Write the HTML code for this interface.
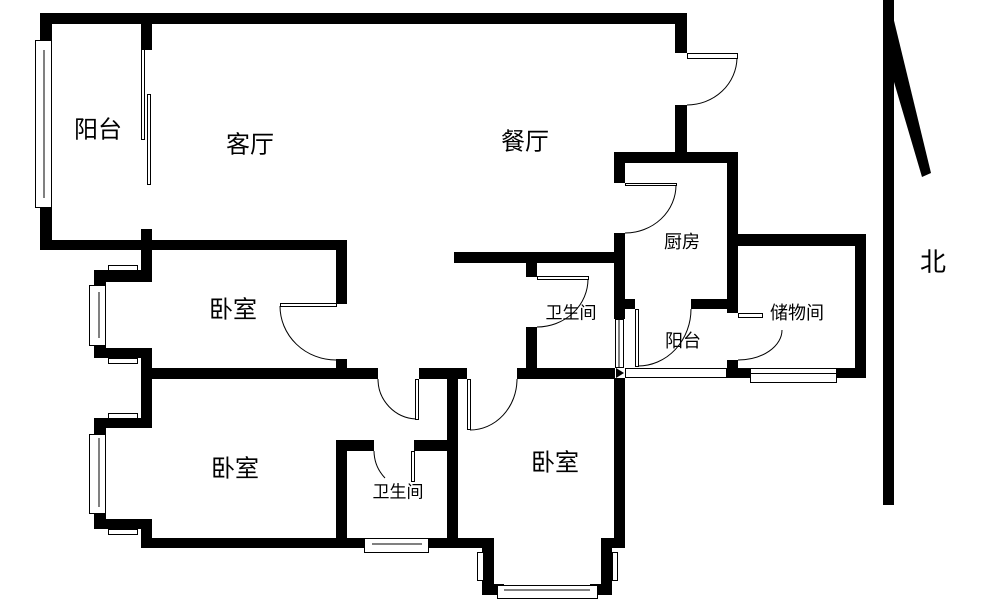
<!DOCTYPE html>
<html><head><meta charset="utf-8"><style>
html,body{margin:0;padding:0;background:#fff;}
svg{display:block;}
text{font-family:"Liberation Sans","Noto Sans CJK SC",sans-serif;fill:#000;text-anchor:middle;dominant-baseline:central;}
</style></head><body>
<svg width="990" height="610" viewBox="0 0 990 610" xmlns="http://www.w3.org/2000/svg">
<g fill="#000">
<!-- top & outer -->
<rect x="40" y="13" width="647" height="11"/>
<rect x="40" y="13" width="12" height="37"/>
<rect x="40" y="198" width="12" height="52"/>
<rect x="40" y="240" width="307" height="10"/>
<rect x="141" y="24" width="11" height="26"/>
<rect x="141" y="229" width="11" height="21"/>
<rect x="675" y="13" width="12" height="40"/>
<rect x="675" y="105" width="12" height="58"/>
<!-- bedroom1 -->
<rect x="141" y="250" width="11" height="32"/>
<rect x="94" y="270" width="58" height="12"/>
<rect x="94" y="270" width="12" height="22"/>
<rect x="94" y="338" width="12" height="20"/>
<rect x="94" y="348" width="58" height="10"/>
<rect x="141" y="348" width="11" height="32"/>
<rect x="336" y="240" width="11" height="64"/>
<rect x="336" y="359" width="11" height="10"/>
<rect x="141" y="368" width="237" height="11"/>
<!-- middle walls -->
<rect x="419" y="368" width="48" height="11"/>
<rect x="447" y="368" width="11" height="180"/>
<rect x="517" y="368" width="98" height="11"/>
<rect x="454" y="252" width="171" height="11"/>
<rect x="526" y="263" width="11" height="14"/>
<rect x="526" y="327" width="11" height="41"/>
<!-- kitchen -->
<rect x="614" y="152" width="124" height="11"/>
<rect x="614" y="152" width="11" height="31"/>
<rect x="614" y="233" width="11" height="86"/>
<rect x="727" y="152" width="11" height="161"/>
<rect x="625" y="299" width="10" height="10"/>
<rect x="691" y="299" width="47" height="10"/>
<rect x="614" y="378" width="11" height="170"/>
<!-- storage -->
<rect x="727" y="234" width="139" height="12"/>
<rect x="855" y="234" width="11" height="144"/>
<rect x="727" y="360" width="11" height="18"/>
<rect x="727" y="368" width="23" height="10"/>
<rect x="836" y="368" width="30" height="10"/>
<!-- bedroom2 -->
<rect x="141" y="379" width="11" height="49"/>
<rect x="94" y="418" width="58" height="10"/>
<rect x="94" y="418" width="12" height="20"/>
<rect x="94" y="507" width="12" height="22"/>
<rect x="94" y="519" width="58" height="10"/>
<rect x="141" y="519" width="11" height="29"/>
<rect x="141" y="538" width="231" height="10"/>
<rect x="422" y="538" width="36" height="10"/>
<!-- bathroom -->
<rect x="336" y="440" width="11" height="98"/>
<rect x="336" y="440" width="38" height="11"/>
<rect x="414" y="440" width="33" height="11"/>
<!-- bedroom3 -->
<rect x="458" y="538" width="36" height="10"/>
<rect x="482" y="538" width="12" height="57"/>
<rect x="482" y="584" width="22" height="11"/>
<rect x="590" y="584" width="22" height="11"/>
<rect x="601" y="538" width="11" height="57"/>
<rect x="601" y="538" width="24" height="10"/>
<!-- north arrow -->
<rect x="883" y="0" width="11" height="505"/>
<polygon points="883,0 889,0 931,173 922,177 894,82"/>
<polygon points="616,368 624,373 616,378"/>
</g>
<g fill="#fff" stroke="#000" stroke-width="1">
<!-- windows -->
<rect x="35.5" y="40.5" width="16" height="167"/>
<line x1="44" y1="50" x2="44" y2="198"/>
<rect x="141.5" y="49.5" width="3" height="90"/>
<rect x="147.5" y="94.5" width="3" height="90"/>
<rect x="89.5" y="285.5" width="16" height="60"/>
<line x1="99" y1="292" x2="99" y2="338"/>
<rect x="108.5" y="265.5" width="29" height="5"/>
<rect x="108.5" y="358.5" width="29" height="5"/>
<rect x="89.5" y="434.5" width="16" height="79"/>
<line x1="99" y1="438" x2="99" y2="507"/>
<rect x="108.5" y="413.5" width="29" height="5"/>
<rect x="108.5" y="529.5" width="29" height="5"/>
<rect x="364.5" y="538.5" width="64" height="14"/>
<line x1="372" y1="544" x2="422" y2="544"/>
<rect x="497.5" y="585.5" width="100" height="13"/>
<line x1="504" y1="590" x2="590" y2="590"/>
<rect x="477.5" y="552.5" width="6" height="28"/>
<rect x="612.5" y="552.5" width="5" height="28"/>
<rect x="750.5" y="368.5" width="86" height="9"/>
<rect x="750.5" y="373.5" width="86" height="9"/>
<rect x="625.5" y="368.5" width="101" height="9"/>
<rect x="615.5" y="319.5" width="8" height="48"/>
<line x1="619" y1="320" x2="619" y2="367"/>
<!-- door panels -->
<rect x="687.5" y="53.5" width="50" height="5"/>
<rect x="625.5" y="183.5" width="51" height="2"/>
<rect x="537.5" y="276.5" width="51" height="3"/>
<rect x="280.5" y="303.5" width="56" height="3"/>
<rect x="415.5" y="379.5" width="3" height="40"/>
<rect x="467.5" y="379.5" width="3" height="50"/>
<rect x="411.5" y="451.5" width="3" height="30"/>
<rect x="635.5" y="309.5" width="3" height="57"/>
<rect x="738.5" y="313.5" width="24" height="4"/>
</g>
<g fill="none" stroke="#000" stroke-width="1">
<path d="M737,58 A50,48 0 0 1 687,105"/>
<path d="M676,185 A51,48 0 0 1 625,233"/>
<path d="M588,279 A51,48 0 0 1 537,327"/>
<path d="M280,306 A56,54 0 0 0 336,360"/>
<path d="M378,379 A40,40 0 0 0 416,419"/>
<path d="M470,430 A47,51 0 0 0 517,379"/>
<path d="M374,451 A40,40 0 0 0 385,478"/>
<path d="M691,309 A53,57 0 0 1 638,366"/>
<path d="M782,330 A44,30 0 0 1 738,360"/>
</g>
<g>
<text x="98" y="130" font-size="24">阳台</text>
<text x="250" y="145" font-size="24">客厅</text>
<text x="525" y="142" font-size="24">餐厅</text>
<text x="682" y="242" font-size="18">厨房</text>
<text x="571" y="313" font-size="17">卫生间</text>
<text x="683" y="341" font-size="18">阳台</text>
<text x="797" y="313" font-size="18">储物间</text>
<text x="233" y="310" font-size="24">卧室</text>
<text x="235" y="469" font-size="24">卧室</text>
<text x="398" y="492" font-size="17">卫生间</text>
<text x="555" y="463" font-size="24">卧室</text>
<text x="933" y="262" font-size="26">北</text>
</g>
</svg>
</body></html>
